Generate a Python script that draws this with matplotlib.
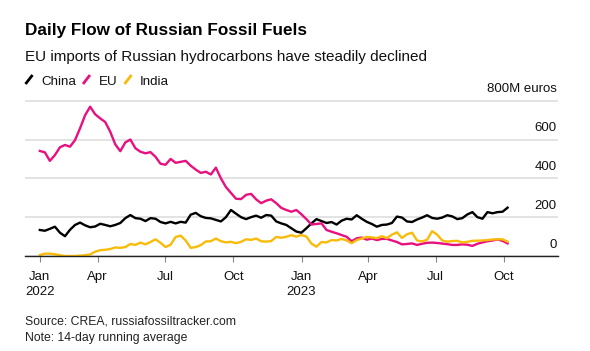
import numpy as np
import pandas as pd
import matplotlib
matplotlib.use("Agg")
import matplotlib.pyplot as plt
from matplotlib.lines import Line2D
from matplotlib import transforms

plt.rcParams['font.family'] = ['Liberation Sans', 'DejaVu Sans']

# ~weekly readings (14-day running average), 2022-01-13 .. 2023-10-06
dates = pd.date_range('2022-01-13', '2023-10-06', periods=94)

china = [134, 130, 140, 151, 120, 102, 135, 160, 172, 158, 148, 152, 166, 160, 153, 160,
         170, 195, 211, 195, 192, 180, 195, 192, 175, 168, 176, 168, 176, 172, 213, 222,
         205, 196, 194, 186, 178, 200, 237, 218, 200, 190, 200, 208, 197, 211, 208, 178,
         168, 160, 143, 126, 120, 143, 168, 190, 180, 170, 175, 162, 182, 192, 188, 210,
         192, 176, 165, 151, 160, 162, 170, 203, 198, 178, 175, 188, 198, 210, 196, 192,
         198, 210, 204, 190, 195, 214, 226, 200, 192, 226, 220, 226, 228, 249]

eu = [541, 534, 490, 520, 560, 572, 563, 597, 658, 725, 769, 730, 709, 690, 640, 575,
      540, 585, 600, 555, 537, 529, 535, 511, 475, 470, 500, 480, 485, 490, 465, 445,
      428, 434, 420, 455, 400, 355, 325, 295, 293, 315, 320, 292, 272, 285, 292, 272,
      248, 237, 228, 237, 215, 190, 162, 165, 168, 134, 125, 117, 108, 99, 76, 91,
      95, 84, 90, 82, 88, 88, 80, 72, 60, 62, 65, 57, 63, 68, 69, 67,
      64, 61, 57, 57, 60, 58, 52, 63, 70, 76, 80, 85, 78, 65]

india = [5, 12, 12, 9, 4, 0, 0, 0, 2, 4, 8, 22, 30, 32, 36, 44,
         42, 46, 62, 57, 69, 60, 72, 86, 68, 46, 58, 98, 105, 80, 42, 46,
         56, 75, 76, 90, 76, 70, 73, 66, 73, 86, 83, 90, 76, 74, 77, 98,
         94, 99, 107, 100, 108, 100, 64, 48, 72, 70, 82, 80, 88, 80, 66, 82,
         90, 98, 96, 92, 102, 92, 110, 122, 93, 112, 120, 80, 75, 84, 128, 110,
         80, 74, 77, 78, 70, 73, 78, 79, 80, 82, 85, 86, 86, 74]

tick_dates = ['2022-01-13', '2022-04-01', '2022-07-01', '2022-10-01',
              '2023-01-01', '2023-04-01', '2023-07-01', '2023-10-01']
tick_labels = ['Jan\n2022', 'Apr', 'Jul', 'Oct', 'Jan\n2023', 'Apr', 'Jul', 'Oct']
y_ticks = [0, 200, 400, 600, 800]
y_labels = ['0', '200', '400', '600', '800M euros']

series = [('China', china, '#000000'), ('EU', eu, '#e8107f'), ('India', india, '#f9bb0a')]

W, H = 590, 351
def fx(x):
    return x / W
def fy(y):
    return 1 - y / H

fig = plt.figure(figsize=(W / 100, H / 100), dpi=100)
ax = fig.add_axes([fx(25), fy(256), fx(558) - fx(25), fy(96.8) - fy(256)])

for name, vals, col in series:
    ax.plot(dates, vals, color=col, lw=1.7, solid_joinstyle='round')

ax.set_ylim(0, 820)
ax.set_xlim(pd.Timestamp('2021-12-24'), pd.Timestamp('2023-12-13'))
ax.set_yticks(y_ticks)
ax.yaxis.grid(True, color='#e3e3e3', lw=1.4)
ax.set_axisbelow(True)
ax.tick_params(axis='y', length=0, labelleft=False)
for s in ['left', 'right', 'top']:
    ax.spines[s].set_visible(False)
ax.spines['bottom'].set_color('#222222')
ax.spines['bottom'].set_linewidth(1)

ax.set_xticks([pd.Timestamp(d) for d in tick_dates])
ax.set_xticklabels(tick_labels, fontsize=9.5, color='#111111', linespacing=1.4)
ax.tick_params(axis='x', length=4, width=0.8, color='#888888', pad=6.5)

trans = transforms.blended_transform_factory(ax.transAxes, ax.transData)
for v, lab in zip(y_ticks, y_labels):
    ax.annotate(lab, xy=(1, v), xycoords=trans, xytext=(-1, 6), textcoords='offset points',
                ha='right', va='baseline', fontsize=9.5, color='#111111')

# headings
fig.text(fx(25), fy(35), 'Daily Flow of Russian Fossil Fuels', fontsize=12.3,
         fontweight='bold', va='baseline', color='#000000')
fig.text(fx(25), fy(61), 'EU imports of Russian hydrocarbons have steadily declined',
         fontsize=11, va='baseline', color='#111111')

# legend: short slashes + names
leg_x = [25.5, 83, 124.5]
for (name, vals, col), lx in zip(series, leg_x):
    fig.add_artist(Line2D([fx(lx), fx(lx + 7)], [fy(84), fy(75)], color=col, lw=2,
                          solid_capstyle='butt'))
    fig.text(fx(lx + 15.5), fy(84.7), name, fontsize=9.6, va='baseline', color='#111111')

fig.text(fx(25), fy(324.5), 'Source: CREA, russiafossiltracker.com', fontsize=8.8,
         va='baseline', color='#222222')
fig.text(fx(25), fy(340.5), 'Note: 14-day running average', fontsize=8.8,
         va='baseline', color='#222222')

fig.savefig('out.png', dpi=100, facecolor='white')
